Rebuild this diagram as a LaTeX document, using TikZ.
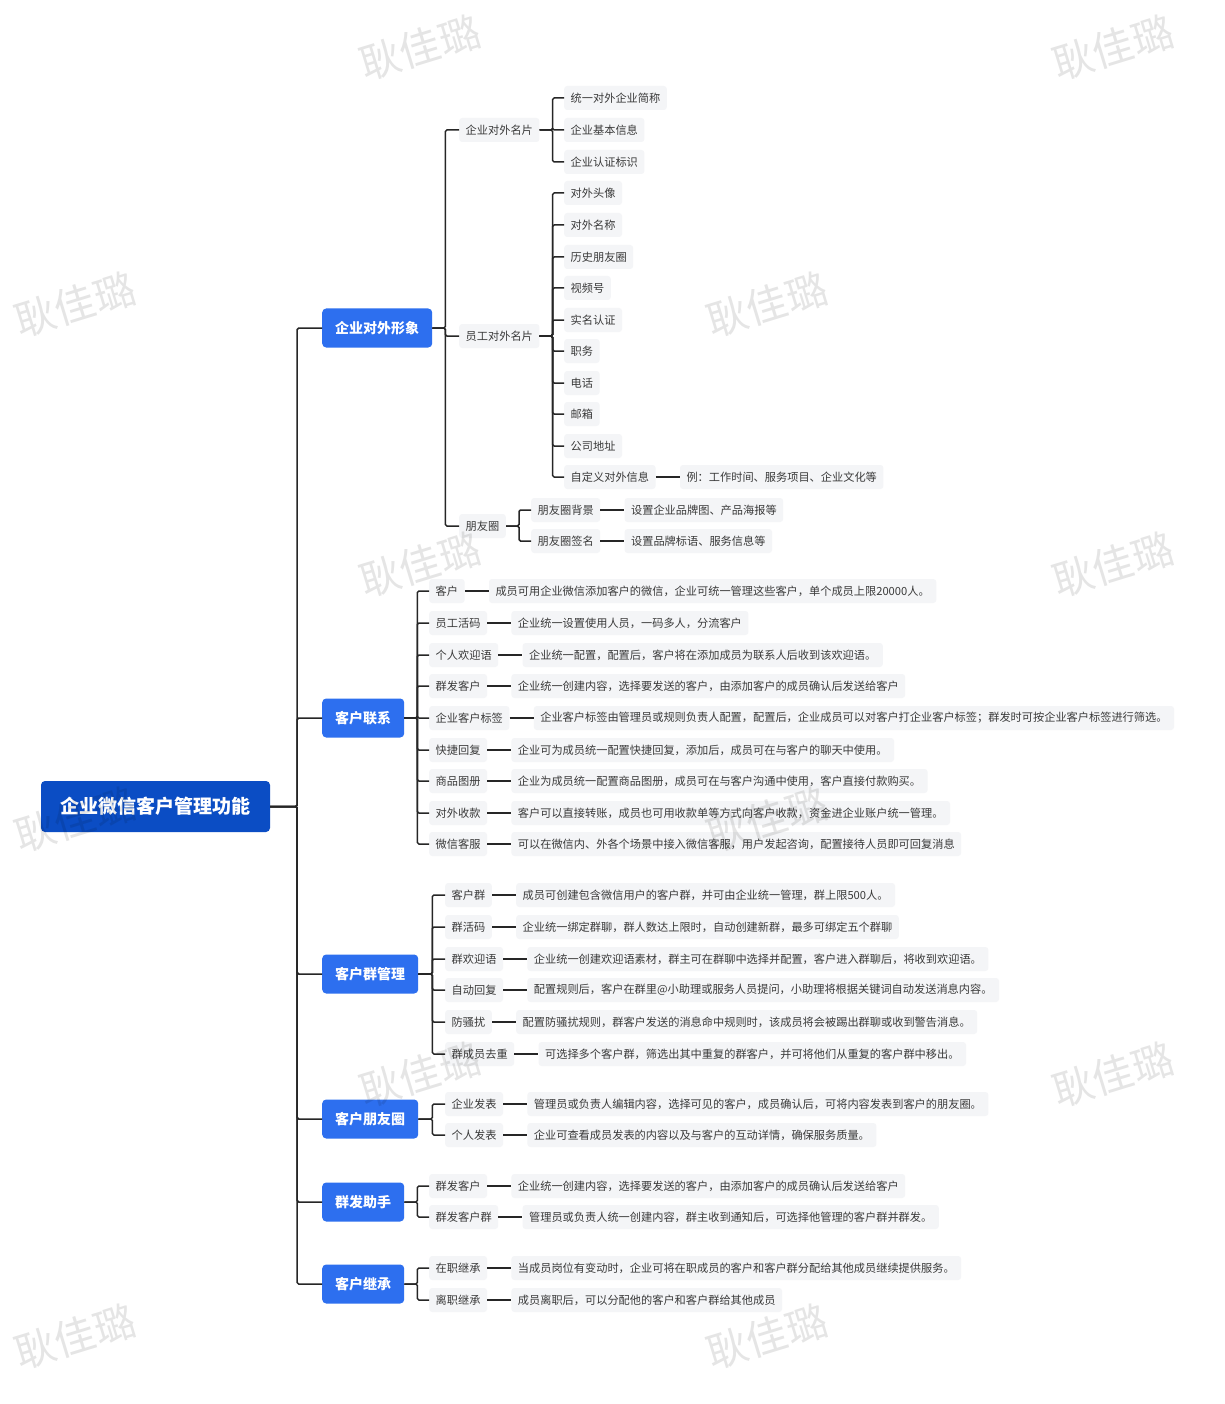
\documentclass[tikz,border=0pt]{standalone}
\usepackage{fontspec}
\setmainfont{Noto Sans CJK SC}
\definecolor{rootblue}{HTML}{0B4DC4}
\definecolor{lblue}{HTML}{2D6FEF}
\definecolor{itemgray}{HTML}{F4F5F7}
\definecolor{itemtext}{HTML}{3A3A3A}
\definecolor{linecol}{HTML}{262626}
\newcommand\mkleaf[4]{\node[item] (#1) at (#2,#3) {#4};}
\newcommand\mkdesc[2]{\node[item] (#1d) at ([xshift=24pt]#1.east) {#2};\draw[shortlink] (#1.east) -- (#1d.west);}
\begin{document}
\begin{tikzpicture}[x=1pt,y=-1pt,
  rootbox/.style={fill=rootblue,text=white,font=\bfseries\fontsize{19}{22}\selectfont,rounded corners=4pt,minimum height=51pt,inner xsep=19.5pt,inner ysep=0pt},
  lbox/.style={fill=lblue,text=white,font=\bfseries\fontsize{14}{17}\selectfont,rounded corners=4pt,minimum height=39pt,inner xsep=13pt,inner ysep=0pt,anchor=west},
  item/.style={fill=itemgray,text=itemtext,font=\fontsize{11.2}{13}\selectfont,rounded corners=3pt,minimum height=24pt,inner xsep=6.5pt,inner ysep=0pt,anchor=west},
  link/.style={draw=linecol,line width=1.5pt,rounded corners=1.5pt},
  shortlink/.style={draw=linecol,line width=1.5pt},
  wm/.style={text=black,text opacity=0.10,font=\fontsize{41}{43}\selectfont,rotate=17}]
\useasboundingbox (0,0) rectangle (1224,1404);
\fill[white] (0,0) rectangle (1224,1404);

% root and level 1
\node[rootbox] (root) at (155.5,806.5) {企业微信客户管理功能};
\node[lbox] (a) at (322,328) {企业对外形象};
\node[lbox] (b) at (322,718) {客户联系};
\node[lbox] (c) at (322,974) {客户群管理};
\node[lbox] (d) at (322,1119) {客户朋友圈};
\node[lbox] (e) at (322,1202) {群发助手};
\node[lbox] (f) at (322,1284) {客户继承};
\foreach \n in {a,b,c,d,e,f} \draw[link] (root.east) -- ++(27,0) |- (\n.west);

% 企业对外形象
\mkleaf{a1}{459}{130}{企业对外名片}
\mkleaf{a2}{459}{336}{员工对外名片}
\mkleaf{a3}{459}{526}{朋友圈}
\foreach \n in {a1,a2,a3} \draw[link] (a.east) -- ++(13,0) |- (\n.west);

\mkleaf{a11}{564}{98}{统一对外企业简称}
\mkleaf{a12}{564}{130}{企业基本信息}
\mkleaf{a13}{564}{162}{企业认证标识}
\foreach \n in {a11,a12,a13} \draw[link] (a1.east) -- ++(13,0) |- (\n.west);

\mkleaf{a21}{564}{193}{对外头像}
\mkleaf{a22}{564}{225}{对外名称}
\mkleaf{a23}{564}{257}{历史朋友圈}
\mkleaf{a24}{564}{288}{视频号}
\mkleaf{a25}{564}{320}{实名认证}
\mkleaf{a26}{564}{351}{职务}
\mkleaf{a27}{564}{383}{电话}
\mkleaf{a28}{564}{414}{邮箱}
\mkleaf{a29}{564}{446}{公司地址}
\mkleaf{a20}{564}{477}{自定义对外信息}
\mkdesc{a20}{例：工作时间、服务项目、企业文化等}
\foreach \n in {a21,a22,a23,a24,a25,a26,a27,a28,a29,a20} \draw[link] (a2.east) -- ++(13,0) |- (\n.west);

\mkleaf{a31}{531}{510}{朋友圈背景}
\mkdesc{a31}{设置企业品牌图、产品海报等}
\mkleaf{a32}{531}{541}{朋友圈签名}
\mkdesc{a32}{设置品牌标语、服务信息等}
\foreach \n in {a31,a32} \draw[link] (a3.east) -- ++(13,0) |- (\n.west);

% 客户联系
\mkleaf{b1}{429}{591}{客户}
\mkdesc{b1}{成员可用企业微信添加客户的微信，企业可统一管理这些客户，单个成员上限20000人。}
\mkleaf{b2}{429}{623}{员工活码}
\mkdesc{b2}{企业统一设置使用人员，一码多人，分流客户}
\mkleaf{b3}{429}{655}{个人欢迎语}
\mkdesc{b3}{企业统一配置，配置后，客户将在添加成员为联系人后收到该欢迎语。}
\mkleaf{b4}{429}{686}{群发客户}
\mkdesc{b4}{企业统一创建内容，选择要发送的客户，由添加客户的成员确认后发送给客户}
\mkleaf{b5}{429}{718}{企业客户标签}
\mkdesc{b5}{企业客户标签由管理员或规则负责人配置，配置后，企业成员可以对客户打企业客户标签；群发时可按企业客户标签进行筛选。}
\mkleaf{b6}{429}{750}{快捷回复}
\mkdesc{b6}{企业可为成员统一配置快捷回复，添加后，成员可在与客户的聊天中使用。}
\mkleaf{b7}{429}{781}{商品图册}
\mkdesc{b7}{企业为成员统一配置商品图册，成员可在与客户沟通中使用，客户直接付款购买。}
\mkleaf{b8}{429}{813}{对外收款}
\mkdesc{b8}{客户可以直接转账，成员也可用收款单等方式向客户收款，资金进企业账户统一管理。}
\mkleaf{b9}{429}{844}{微信客服}
\mkdesc{b9}{可以在微信内、外各个场景中接入微信客服，用户发起咨询，配置接待人员即可回复消息}
\foreach \n in {b1,b2,b3,b4,b5,b6,b7,b8,b9} \draw[link] (b.east) -- ++(13,0) |- (\n.west);

% 客户群管理
\mkleaf{c1}{445}{895}{客户群}
\mkdesc{c1}{成员可创建包含微信用户的客户群，并可由企业统一管理，群上限500人。}
\mkleaf{c2}{445}{927}{群活码}
\mkdesc{c2}{企业统一绑定群聊，群人数达上限时，自动创建新群，最多可绑定五个群聊}
\mkleaf{c3}{445}{959}{群欢迎语}
\mkdesc{c3}{企业统一创建欢迎语素材，群主可在群聊中选择并配置，客户进入群聊后，将收到欢迎语。}
\mkleaf{c4}{445}{990}{自动回复}
\mkdesc{c4}{配置规则后，客户在群里@小助理或服务人员提问，小助理将根据关键词自动发送消息内容。}
\mkleaf{c5}{445}{1022}{防骚扰}
\mkdesc{c5}{配置防骚扰规则，群客户发送的消息命中规则时，该成员将会被踢出群聊或收到警告消息。}
\mkleaf{c6}{445}{1054}{群成员去重}
\mkdesc{c6}{可选择多个客户群，筛选出其中重复的群客户，并可将他们从重复的客户群中移出。}
\foreach \n in {c1,c2,c3,c4,c5,c6} \draw[link] (c.east) -- ++(14,0) |- (\n.west);

% 客户朋友圈
\mkleaf{d1}{445}{1104}{企业发表}
\mkdesc{d1}{管理员或负责人编辑内容，选择可见的客户，成员确认后，可将内容发表到客户的朋友圈。}
\mkleaf{d2}{445}{1135}{个人发表}
\mkdesc{d2}{企业可查看成员发表的内容以及与客户的互动详情，确保服务质量。}
\foreach \n in {d1,d2} \draw[link] (d.east) -- ++(14,0) |- (\n.west);

% 群发助手
\mkleaf{e1}{429}{1186}{群发客户}
\mkdesc{e1}{企业统一创建内容，选择要发送的客户，由添加客户的成员确认后发送给客户}
\mkleaf{e2}{429}{1217}{群发客户群}
\mkdesc{e2}{管理员或负责人统一创建内容，群主收到通知后，可选择他管理的客户群并群发。}
\foreach \n in {e1,e2} \draw[link] (e.east) -- ++(13,0) |- (\n.west);

% 客户继承
\mkleaf{f1}{429}{1268}{在职继承}
\mkdesc{f1}{当成员岗位有变动时，企业可将在职成员的客户和客户群分配给其他成员继续提供服务。}
\mkleaf{f2}{429}{1300}{离职继承}
\mkdesc{f2}{成员离职后，可以分配他的客户和客户群给其他成员}
\foreach \n in {f1,f2} \draw[link] (f.east) -- ++(13,0) |- (\n.west);

% watermarks
\foreach \x/\y in {420/48,1113/48,75/305,767/305,420/565,1113/565,75/820,767/820,420/1075,1113/1075,75/1337,767/1337}
  \node[wm] at (\x,\y) {耿佳璐};
\end{tikzpicture}
\end{document}
